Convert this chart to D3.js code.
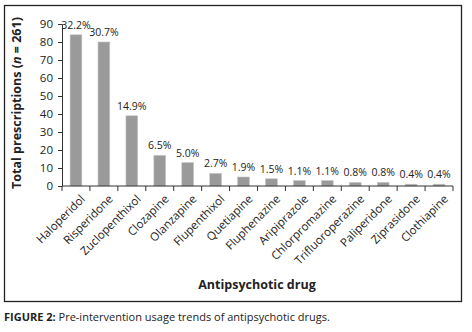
<!DOCTYPE html>
<html>
<head>
<meta charset="utf-8">
<script src="https://cdn.jsdelivr.net/npm/d3@7"></script>
<style>
  body { margin: 0; background: #fff; }
  text { font-family: "Open Sans", "Noto Sans", sans-serif; fill: #222; }
</style>
</head>
<body>
<script>
// chart data
var drugs = ["Haloperidol", "Risperidone", "Zuclopenthixol", "Clozapine", "Olanzapine",
  "Flupenthixol", "Quetiapine", "Fluphenazine", "Aripiprazole", "Chlorpromazine",
  "Trifluoroperazine", "Paliperidone", "Ziprasidone", "Clothiapine"];
var counts = [84, 80, 39, 17, 13, 7, 5, 4, 3, 3, 2, 2, 1, 1];
var percents = ["32.2%", "30.7%", "14.9%", "6.5%", "5.0%", "2.7%", "1.9%", "1.5%",
  "1.1%", "1.1%", "0.8%", "0.8%", "0.4%", "0.4%"];
var yTicks = [0, 10, 20, 30, 40, 50, 60, 70, 80, 90];

var W = 472, H = 332;
var margin = {top: 24, right: 19, bottom: 146, left: 62},
    width = W - margin.left - margin.right,
    height = H - margin.top - margin.bottom;

var svg = d3.select("body").append("svg")
    .attr("width", W)
    .attr("height", H);

// frame around the figure
svg.append("rect")
    .attr("x", 4.5).attr("y", 5.5)
    .attr("width", 457).attr("height", 296)
    .attr("fill", "none")
    .attr("stroke", "#222")
    .attr("stroke-width", 1.3);

var g = svg.append("g")
    .attr("transform", "translate(" + margin.left + "," + margin.top + ")");

var x = d3.scaleBand()
    .domain(drugs)
    .range([0, width])
    .paddingInner(0.58)
    .paddingOuter(0.29);

var y = d3.scaleLinear()
    .domain([0, 90])
    .range([height, 0]);

// bars
g.selectAll("rect.bar")
  .data(counts)
  .enter()
  .append("rect")
    .attr("class", "bar")
    .attr("x", function(d, i) { return x(drugs[i]); })
    .attr("y", function(d) { return y(d); })
    .attr("width", x.bandwidth())
    .attr("height", function(d) { return height - y(d); })
    .attr("fill", "#9a9a9a")
    .attr("stroke", "#c4c4c4")
    .attr("stroke-width", 0.6);

// value labels
g.selectAll("text.val")
  .data(counts)
  .enter()
  .append("text")
    .attr("class", "val")
    .attr("x", function(d, i) { return x(drugs[i]) + x.bandwidth() / 2; })
    .attr("y", function(d) { return y(d) - 6; })
    .attr("text-anchor", "middle")
    .style("font-size", "10.5px")
    .text(function(d, i) { return percents[i]; });

// y axis
var yAxis = g.append("g")
    .call(d3.axisLeft(y).tickValues(yTicks).tickSize(4).tickPadding(5));
yAxis.selectAll("text").style("font-size", "11.5px").attr("fill", "#222");
yAxis.selectAll("line, path").attr("stroke", "#333");

// x axis, ticks sit on the band boundaries
var xAxis = g.append("g")
    .attr("transform", "translate(0," + height + ")");
xAxis.append("line")
    .attr("x1", 0).attr("x2", width)
    .attr("stroke", "#333");
var step = x.step();
xAxis.selectAll("line.tick")
  .data(d3.range(drugs.length + 1))
  .enter()
  .append("line")
    .attr("class", "tick")
    .attr("x1", function(i) { return i * step; })
    .attr("x2", function(i) { return i * step; })
    .attr("y1", 0).attr("y2", 5)
    .attr("stroke", "#333");

xAxis.selectAll("text.cat")
  .data(drugs)
  .enter()
  .append("text")
    .attr("class", "cat")
    .attr("text-anchor", "end")
    .style("font-size", "11.5px")
    .attr("transform", function(d) {
      return "translate(" + (x(d) + x.bandwidth() / 2 + 4) + ",8) rotate(-45)";
    })
    .attr("dy", "0.7em")
    .text(function(d) { return d; });

// axis titles
var yTitle = svg.append("text")
    .attr("transform", "translate(21," + (margin.top + height / 2 - 2) + ") rotate(-90)")
    .attr("text-anchor", "middle")
    .style("font-size", "12.5px")
    .style("font-weight", "bold");
yTitle.append("tspan").text("Total prescriptions (");
yTitle.append("tspan").style("font-style", "italic").text("n");
yTitle.append("tspan").text(" = 261)");

svg.append("text")
    .attr("x", 257)
    .attr("y", 289)
    .attr("text-anchor", "middle")
    .style("font-size", "12.5px")
    .style("font-weight", "bold")
    .text("Antipsychotic drug");

// caption
var cap = svg.append("text")
    .attr("x", 4)
    .attr("y", 321)
    .style("font-size", "11px");
cap.append("tspan").style("font-weight", "bold").text("FIGURE 2:");
cap.append("tspan").text(" Pre-intervention usage trends of antipsychotic drugs.");
</script>
</body>
</html>
